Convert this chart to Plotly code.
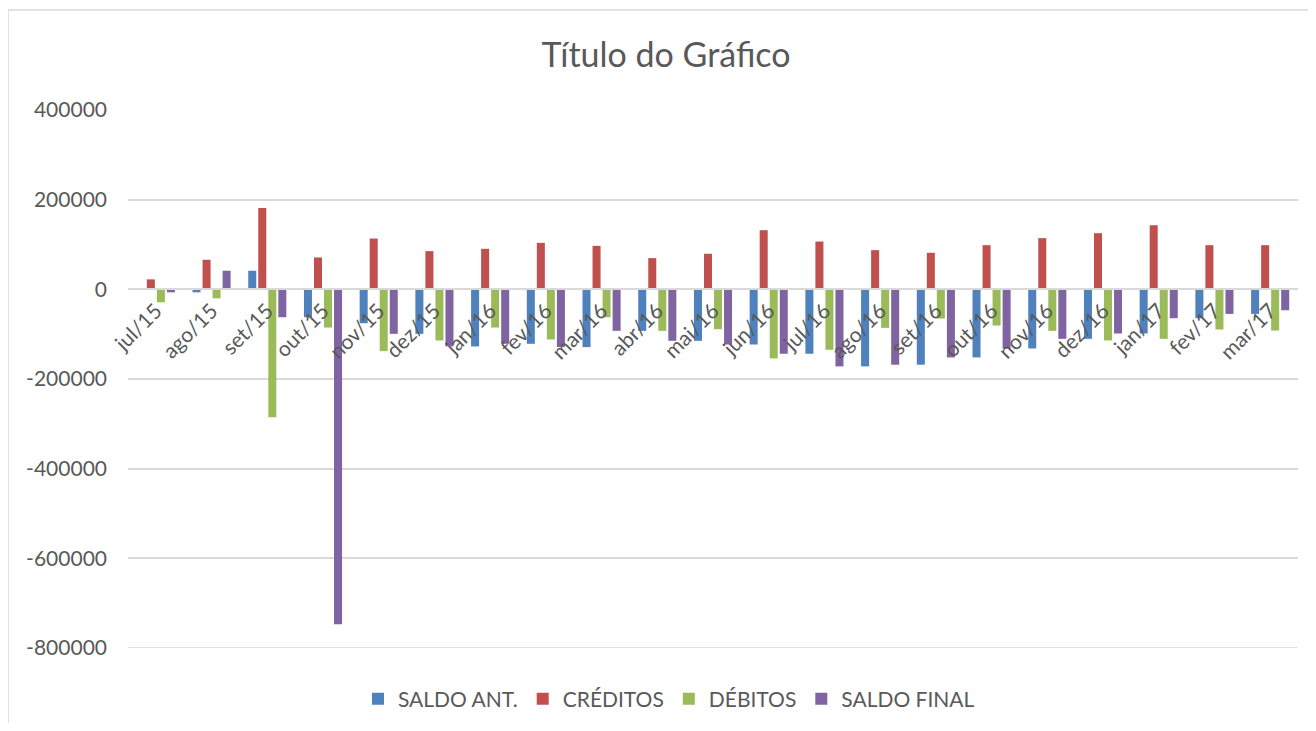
import plotly.graph_objects as go

categories = ["jul/15", "ago/15", "set/15", "out/15", "nov/15", "dez/15", "jan/16", "fev/16",
              "mar/16", "abr/16", "mai/16", "jun/16", "jul/16", "ago/16", "set/16", "out/16",
              "nov/16", "dez/16", "jan/17", "fev/17", "mar/17"]

saldo_ant = [0, -6700, 41500, -62200, -75600, -99300, -127400, -121500, -128900, -92600,
             -114800, -123000, -143700, -171900, -168100, -151900, -131900, -110400, -98500,
             -64400, -54800]
creditos = [22200, 65900, 181500, 71100, 113300, 85200, 90400, 103700, 97000, 69600,
            79300, 131900, 106700, 87400, 81500, 98500, 114100, 125200, 143000, 98500, 98500]
debitos = [-28900, -20000, -285400, -85200, -137800, -114100, -85200, -111900, -62200, -92600,
           -88900, -154100, -134800, -85900, -65200, -80700, -92600, -114100, -110400, -89600,
           -91900]
saldo_final = [-6700, 41500, -62200, -747000, -99300, -127400, -121500, -128900, -92600, -114800,
               -123000, -143700, -171900, -168100, -151900, -131900, -110400, -98500, -64400,
               -54800, -46700]

series_names = ["SALDO ANT.", "CRÉDITOS", "DÉBITOS", "SALDO FINAL"]
series_values = [saldo_ant, creditos, debitos, saldo_final]
series_colors = ["#4f81bd", "#c0504d", "#9bbb59", "#8064a2"]

y_ticks = [400000, 200000, 0, -200000, -400000, -600000, -800000]
y_tick_labels = ["400000", "200000", "0", "-200000", "-400000", "-600000", "-800000"]

FONT = "Lato, 'Open Sans', sans-serif"
TXT = "#595959"
GRID = "#d9d9d9"

fig = go.Figure()
for name, vals, col in zip(series_names, series_values, series_colors):
    fig.add_trace(go.Bar(x=categories, y=vals, name=name, marker=dict(color=col, line=dict(width=0))))

# page body has an 8px margin; figure coords = screen coords - 8
OFF = 8
W, H = 1300, 715
L, T = 128 - OFF, 110 - OFF
R = W - (1298 - OFF)
B = H - (648 - OFF)
pw, ph = W - L - R, H - T - B

y_min, y_max = -800000, 400000
zero_pos = (0 - y_min) / (y_max - y_min)

def px_x(sx):
    return (sx - OFF - L) / pw

def px_y(sy):
    return (H - B - (sy - OFF)) / ph

fig.update_layout(
    width=W, height=H,
    margin=dict(l=L, r=R, t=T, b=B, autoexpand=False),
    paper_bgcolor="white", plot_bgcolor="white",
    barmode="group", bargap=0.28, bargroupgap=0.2,
    font=dict(family=FONT, size=21, color=TXT),
    title=dict(text="Título do Gráfico", x=(666 - OFF) / W, xanchor="center",
               y=1 - (55 - OFF) / H, yanchor="middle",
               font=dict(family=FONT, size=34, color=TXT)),
    legend=dict(orientation="h", x=px_x(669), xanchor="center",
                y=px_y(699), yanchor="middle",
                font=dict(family=FONT, size=21, color=TXT),
                itemwidth=30, tracegroupgap=0),
    xaxis=dict(anchor="free", position=zero_pos, showgrid=False, showline=True,
               linecolor=GRID, linewidth=2, tickangle=-45, ticks="",
               tickfont=dict(family=FONT, size=21, color=TXT)),
    yaxis=dict(range=[y_min, y_max], tickvals=y_ticks, ticktext=y_tick_labels,
               showgrid=True, gridcolor=GRID, gridwidth=1.5, zeroline=False,
               showline=False, ticks="", ticklabelstandoff=20, domain=[0, 1],
               tickfont=dict(family=FONT, size=21, color=TXT)),
    shapes=[
        dict(type="rect", xref="paper", yref="paper",
             x0=px_x(8), x1=px_x(1330), y0=px_y(745), y1=px_y(10),
             line=dict(color=GRID, width=1.5), fillcolor="rgba(0,0,0,0)", layer="below"),
        dict(type="line", xref="paper", yref="y", x0=0, x1=1, y0=y_min, y1=y_min,
             line=dict(color=GRID, width=1.5), layer="below"),
    ],
)

fig.write_html("out.html")
